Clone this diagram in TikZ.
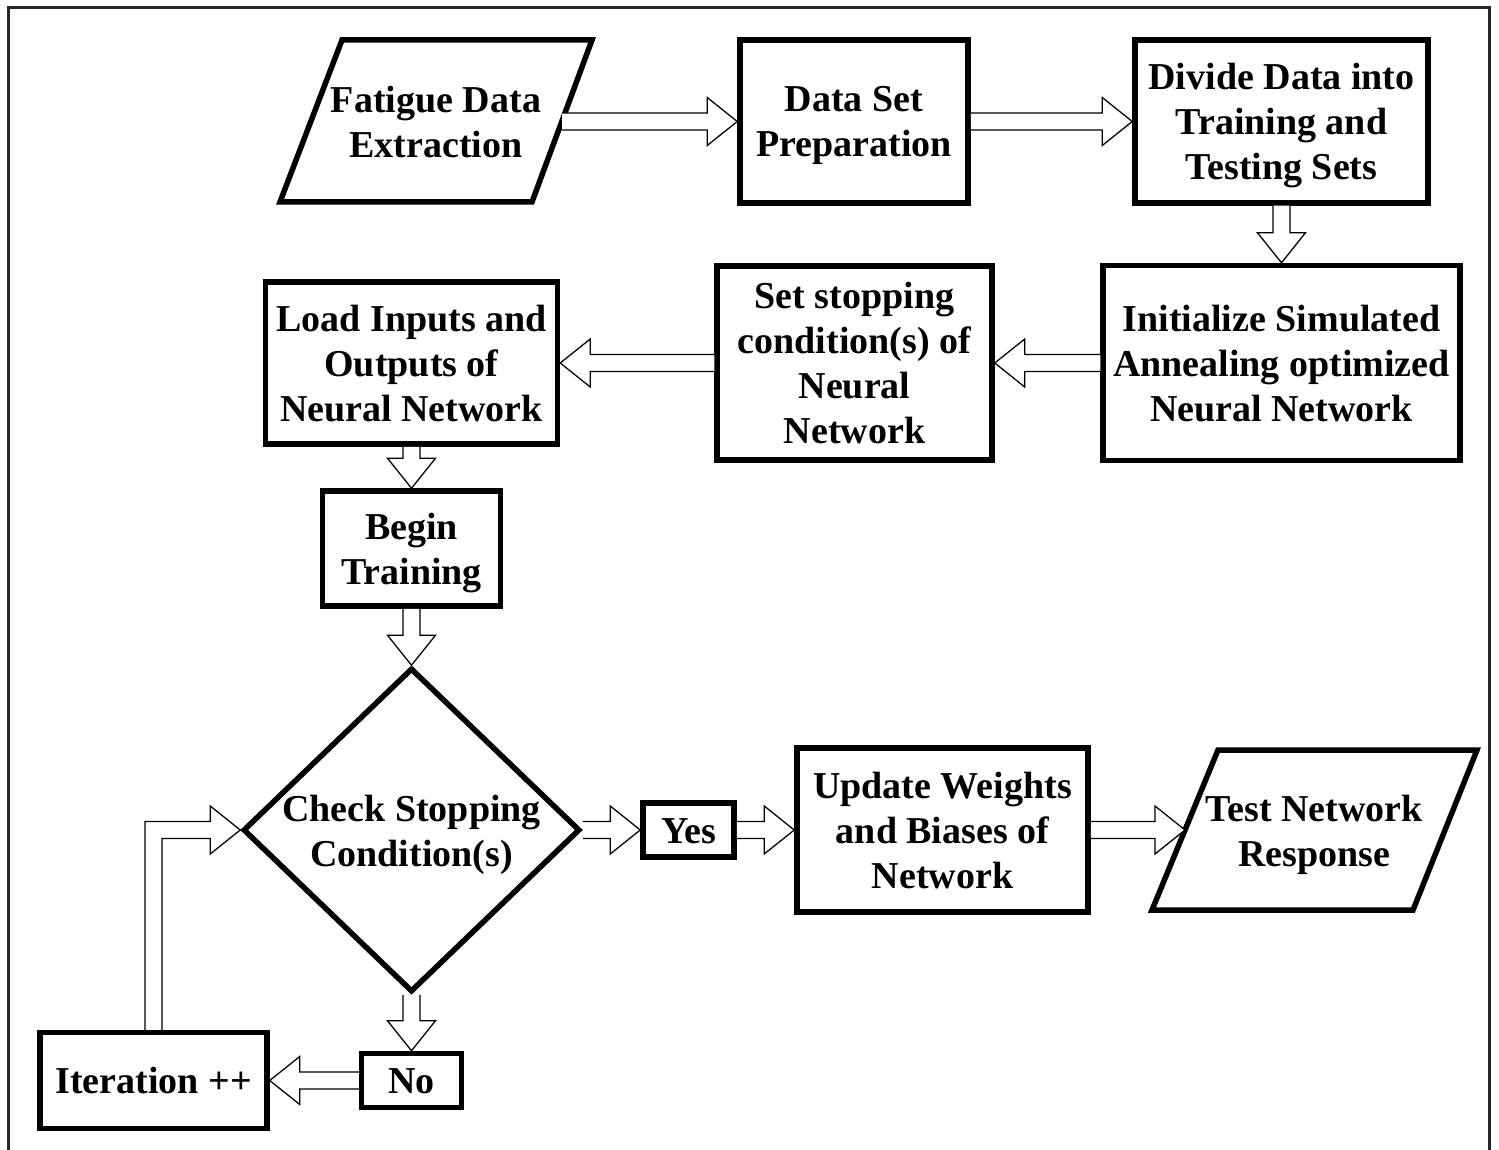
\documentclass[tikz,border=0pt]{standalone}
\usepackage{fontspec}
\setmainfont{Liberation Serif}
\usetikzlibrary{calc,shapes.geometric}
\newcommand\arrSW{8.5pt}
\newcommand\arrHW{24pt}
\newcommand\arrHL{30pt}
\newcommand\tfirst{\rule{0pt}{40pt}}
\newcommand\tlast{\rule[-14pt]{0pt}{14pt}}
\newcommand\blockarrow[2]{%
  \draw[barrow] let \p1=(#1), \p2=(#2), \n1={atan2(\y2-\y1,\x2-\x1)} in
    ($(\p1)+(\n1+90:\arrSW)$)
    -- ($(\p2)+(\n1+180:\arrHL)+(\n1+90:\arrSW)$)
    -- ($(\p2)+(\n1+180:\arrHL)+(\n1+90:\arrHW)$)
    -- (\p2)
    -- ($(\p2)+(\n1+180:\arrHL)+(\n1-90:\arrHW)$)
    -- ($(\p2)+(\n1+180:\arrHL)+(\n1-90:\arrSW)$)
    -- ($(\p1)+(\n1-90:\arrSW)$);}
\begin{document}
\begin{tikzpicture}[x=1pt,y=-1pt,
  boxline/.style={draw=black,line width=5.5pt,line join=miter},
  txtbase/.style={inner sep=0pt,align=center,
    font=\fontsize{38}{45}\selectfont\bfseries},
  box/.style={boxline,rectangle,txtbase},
  txt/.style={txtbase},
  diam/.style={boxline,diamond,inner sep=0pt},
  barrow/.style={draw=black,line width=1.3pt,fill=white,line join=miter}]
\useasboundingbox (0,0) rectangle (1499,1150);
\clip (0,0) rectangle (1499,1150);
\draw[line width=3pt,black!85] (8,8) rectangle (1489,1165);

% top row
\draw[boxline] (342,40) -- (592,40) -- (532,202) -- (280,202) -- cycle;
\node[txt] (fat) at (436,122) {\tfirst Fatigue Data\\Extraction\tlast};
\coordinate (fatR) at (562,121.5);
\node[box,minimum width=228,minimum height=163] (dsp) at (854,121.5) {\tfirst Data Set\\Preparation\tlast};
\node[box,minimum width=293,minimum height=163] (div) at (1281.5,121.5) {\tfirst Divide Data into\\Training and\\Testing Sets\tlast};

% second row
\node[box,minimum width=357,minimum height=195] (init) at (1281.5,363) {\tfirst Initialize Simulated\\Annealing optimized\\Neural Network\tlast};
\node[box,minimum width=275,minimum height=194] (stop) at (854.5,363) {\tfirst Set stopping\\condition(s) of\\Neural\\Network\tlast};
\node[box,minimum width=292,minimum height=162] (load) at (411.5,363) {\tfirst Load Inputs and\\Outputs of\\Neural Network\tlast};

% training
\node[box,minimum width=178,minimum height=115] (begin) at (411.5,548.5) {\tfirst Begin\\Training\tlast};
\node[diam,minimum width=337,minimum height=324] (chk) at (411.5,830) {};
\node[txt] (chktxt) at (411.5,831) {\tfirst Check Stopping\\Condition(s)\tlast};
\node[box,minimum width=91,minimum height=49] (yes) at (688.5,830) {\tfirst Yes\tlast};
\node[box,minimum width=291,minimum height=164] (upd) at (942.5,830) {\tfirst Update Weights\\and Biases of\\Network\tlast};
\draw[boxline] (1218,750) -- (1477,750) -- (1413,910) -- (1152,910) -- cycle;
\node[txt] (test) at (1314,831) {\tfirst Test Network\\Response\tlast};
\coordinate (testL) at (1185,830);
\node[box,minimum width=100,minimum height=49] (no) at (411.5,1080.5) {\tfirst No\tlast};
\node[box,minimum width=227,minimum height=96] (iter) at (153.5,1080.5) {\tfirst Iteration ++\tlast};

% connectors
\blockarrow{fatR}{dsp.west}
\blockarrow{dsp.east}{div.west}
\blockarrow{div.south}{init.north}
\blockarrow{init.west}{stop.east}
\blockarrow{stop.west}{load.east}
\blockarrow{load.south}{begin.north}
\blockarrow{begin.south}{chk.north}
\blockarrow{chk.east}{yes.west}
\blockarrow{yes.east}{upd.west}
\blockarrow{upd.east}{testL}
\blockarrow{chk.south}{no.north}
\blockarrow{no.west}{iter.east}
\draw[barrow] let \p1=(iter.north), \p2=(chk.west) in
  (\x1-\arrSW,\y1) -- (\x1-\arrSW,\y2+\arrSW) -- (\x2-\arrHL,\y2+\arrSW)
  -- (\x2-\arrHL,\y2+\arrHW) -- (\p2) -- (\x2-\arrHL,\y2-\arrHW)
  -- (\x2-\arrHL,\y2-\arrSW) -- (\x1+\arrSW,\y2-\arrSW) -- (\x1+\arrSW,\y1);
\end{tikzpicture}
\end{document}
